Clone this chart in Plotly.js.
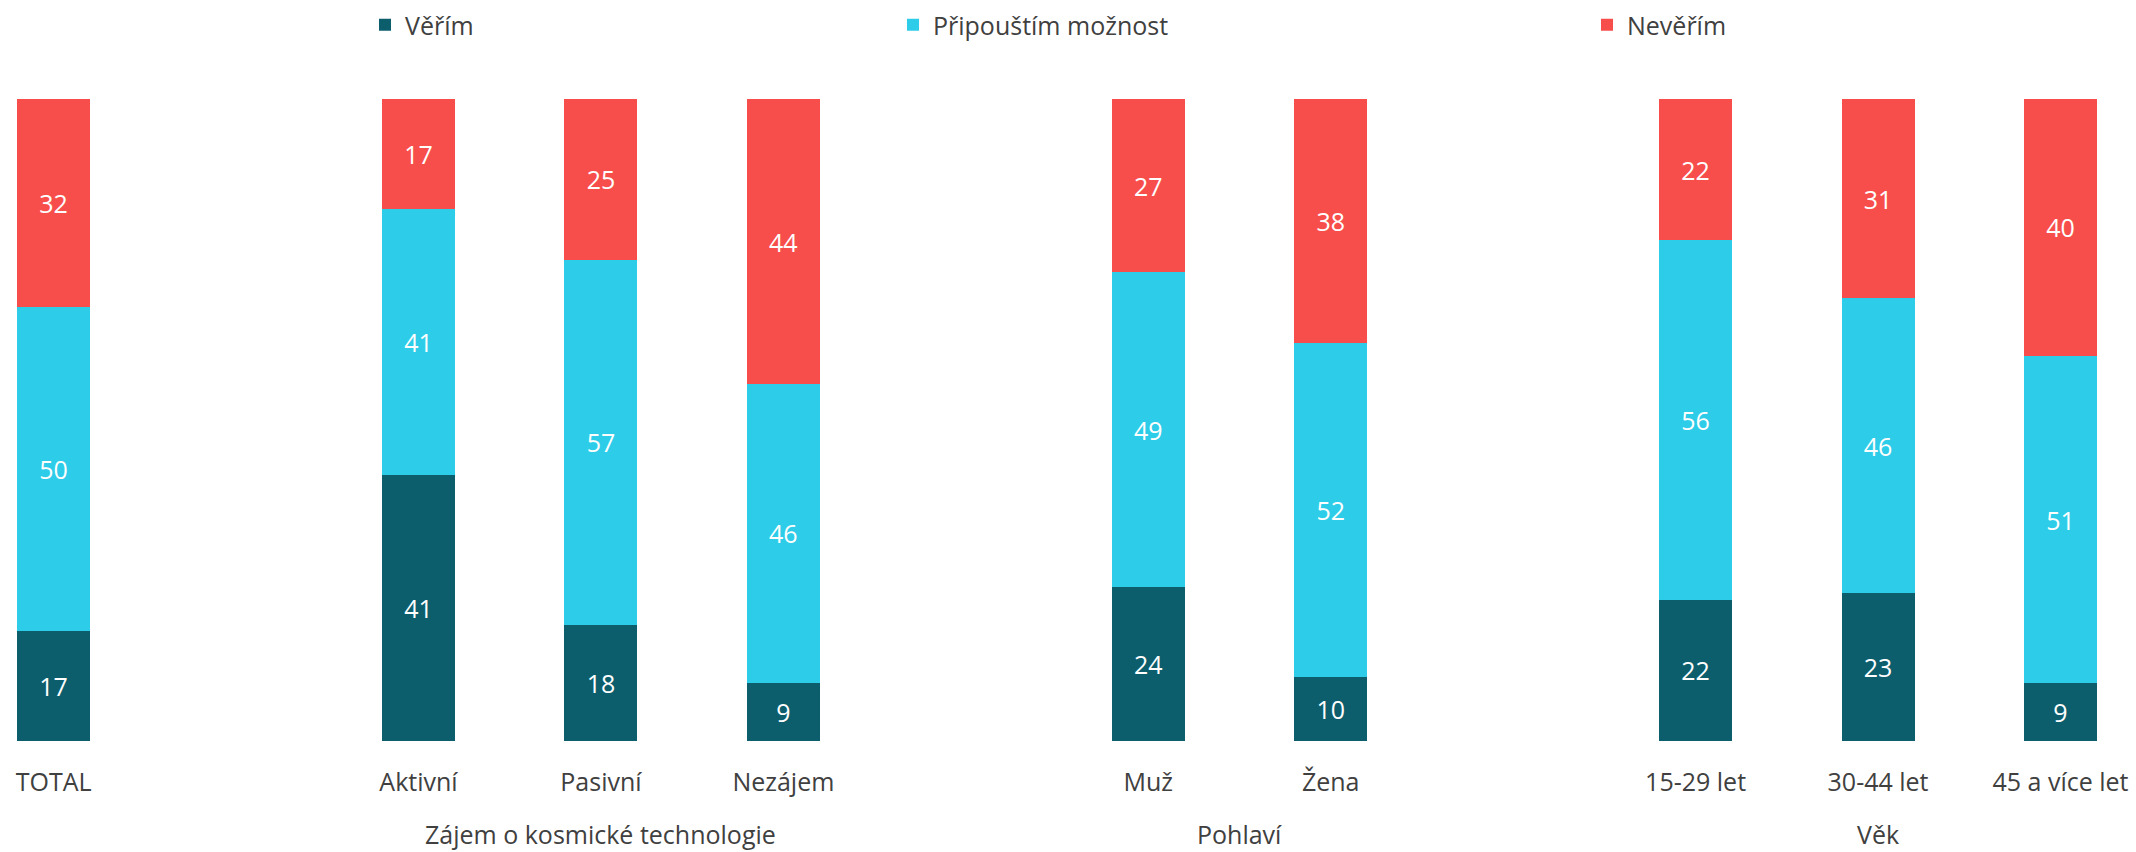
<!DOCTYPE html>
<html>
<head>
<meta charset="utf-8">
<script src="https://cdn.plot.ly/plotly-3.0.1.min.js"></script>
<style>html,body{margin:0;padding:0;background:#fff;}#chart{width:2136px;height:852px;}</style>
</head>
<body>
<div id="chart"></div>
<script>
// Category slots (blank placeholders separate the groups)
const categories = ["TOTAL", " ", "Aktivní", "Pasivní", "Nezájem", "  ", "Muž", "Žena", "   ", "15-29 let", "30-44 let", "45 a více let"];
const barCategories = ["TOTAL", "Aktivní", "Pasivní", "Nezájem", "Muž", "Žena", "15-29 let", "30-44 let", "45 a více let"];
const verim = [17, 41, 18, 9, 24, 10, 22, 23, 9];
const pripoustim = [50, 41, 57, 46, 49, 52, 56, 46, 51];
const neverim = [32, 17, 25, 44, 27, 38, 22, 31, 40];
const seriesNames = ["Věřím", "Připouštím možnost", "Nevěřím"];
const groups = [
  {label: "Zájem o kosmické technologie", members: ["Aktivní", "Pasivní", "Nezájem"]},
  {label: "Pohlaví", members: ["Muž", "Žena"]},
  {label: "Věk", members: ["15-29 let", "30-44 let", "45 a více let"]}
];

const colors = ["#0C5E6D", "#2DCCE8", "#F74E4C"];
const FONT = "Open Sans, Noto Sans, sans-serif";
const TXT = "#404040";
const FS = 25;

const W = 2136, H = 852;
const mt = 99, mb = 111;

function mk(vals, i, leg) {
  return {
    type: "bar",
    name: seriesNames[i],
    x: barCategories,
    y: vals,
    text: vals.map(String),
    textposition: "inside",
    insidetextanchor: "middle",
    constraintext: "none",
    textfont: {family: FONT, size: FS, color: "#ffffff"},
    marker: {color: colors[i], line: {width: 0}},
    legend: leg,
    hoverinfo: "x+y+name"
  };
}

const traces = [mk(verim, 0, "legend"), mk(pripoustim, 1, "legend2"), mk(neverim, 2, "legend3")];

const annotations = groups.map(g => {
  const idx = g.members.map(m => categories.indexOf(m));
  const c = idx.reduce((a, b) => a + b, 0) / idx.length;
  return {
    text: g.label, x: c, xref: "x", y: 0, yref: "paper",
    yshift: -(834 - (H - mb)), yanchor: "middle", xanchor: "center",
    showarrow: false, font: {family: FONT, size: FS, color: TXT}
  };
});

const legY = 1 + (mt - 25) / (H - mt - mb);
function legendAt(px) {
  return {x: (px - 40) / W, xanchor: "left", y: legY, yanchor: "middle",
    orientation: "h", font: {family: FONT, size: FS, color: TXT},
    bgcolor: "rgba(0,0,0,0)", borderwidth: 0};
}

const layout = {
  width: W, height: H,
  margin: {l: 0, r: 0, t: mt, b: mb, pad: 0},
  paper_bgcolor: "#ffffff", plot_bgcolor: "#ffffff",
  barmode: "stack", barnorm: "percent", bargap: 0.6,
  font: {family: FONT, size: FS, color: TXT},
  xaxis: {
    type: "category", categoryorder: "array", categoryarray: categories,
    range: [-0.2938, 11.414],
    tickvals: barCategories, ticktext: barCategories,
    showgrid: false, zeroline: false, showline: false, ticks: "",
    ticklabelstandoff: 24,
    tickfont: {family: FONT, size: FS, color: TXT}
  },
  yaxis: {range: [0, 100], visible: false, fixedrange: true},
  showlegend: true,
  legend: legendAt(405),
  legend2: legendAt(933),
  legend3: legendAt(1627),
  annotations: annotations
};

Plotly.newPlot("chart", traces, layout, {displayModeBar: false, staticPlot: true});
</script>
</body>
</html>
